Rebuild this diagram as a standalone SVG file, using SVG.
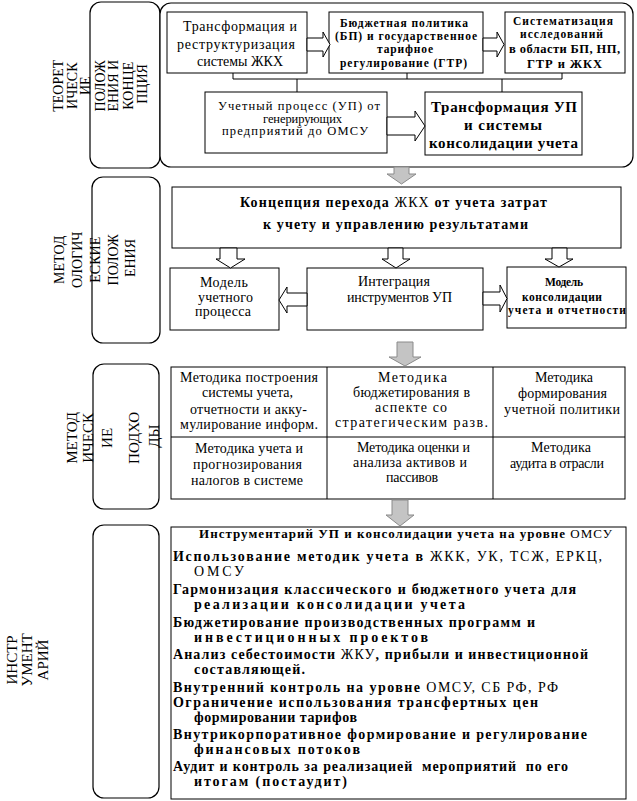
<svg xmlns="http://www.w3.org/2000/svg" width="637" height="801" viewBox="0 0 637 801">
<style>
.bg{fill:#fff}
.box{fill:#fff;stroke:#000;stroke-width:1}
.rr{fill:#fff;stroke:#000;stroke-width:1.2}
.ln{fill:none;stroke:#000;stroke-width:1}
.ha{fill:#fff;stroke:#000;stroke-width:1}
.ga{fill:#c4c4c4;stroke:#8a8a8a;stroke-width:1}
.t{font-family:"Liberation Serif","Times New Roman",serif;fill:#000}
.s14{font-size:14px}
.s125{font-size:12.5px}
.s13{font-size:13px}
.s11{font-size:11.5px}
.s15{font-size:15px}
.b{font-weight:bold}
.n{font-weight:normal}
.v{text-anchor:middle}
</style>
<rect class="bg" x="0" y="0" width="637" height="801"/>

<!-- Section 1 -->
<g id="label-theory">
<rect class="rr" x="90" y="2" width="70" height="166" rx="11"/>
<text class="t s14 v" transform="rotate(-90)">
<tspan x="-84" y="62.5">ТЕОРЕТ</tspan>
<tspan x="-84" y="76.5">ИЧЕСК</tspan>
<tspan x="-84" y="89.5">ИЕ</tspan>
<tspan x="-84" y="104.5">ПОЛОЖ</tspan>
<tspan x="-84" y="117.5">ЕНИЯ И</tspan>
<tspan x="-84" y="132.5">КОНЦЕ</tspan>
<tspan x="-84" y="146.5">ПЦИЯ</tspan>
</text>
</g>
<g id="frame-theory">
<rect class="rr" x="160" y="3" width="473" height="164" rx="11"/>
</g>
<g id="n-transform-zkh">
<rect class="box" x="167" y="12" width="140" height="61"/>
<text class="t s14" x="183" y="31" textLength="114" lengthAdjust="spacing">Трансформация и</text>
<text class="t s14" x="177" y="49" textLength="118" lengthAdjust="spacing">реструктуризация</text>
<text class="t s14" x="197" y="66" textLength="86" lengthAdjust="spacing">системы ЖКХ</text>
</g>
<g id="n-budget">
<rect class="box" x="329" y="12" width="154" height="61"/>
<text class="t s11 b" x="340" y="27" textLength="128" lengthAdjust="spacing">Бюджетная политика</text>
<text class="t s11 b" x="335" y="40" textLength="142" lengthAdjust="spacing">(БП) и государственное</text>
<text class="t s11 b" x="377" y="53" textLength="56" lengthAdjust="spacing">тарифное</text>
<text class="t s11 b" x="340" y="67" textLength="127" lengthAdjust="spacing">регулирование (ГТР)</text>
</g>
<g id="n-system">
<rect class="box" x="505" y="12" width="120" height="61"/>
<text class="t s11 b" x="513" y="25" textLength="100" lengthAdjust="spacing">Систематизация</text>
<text class="t s11 b" x="520" y="38" textLength="83" lengthAdjust="spacing">исследований</text>
<text class="t s125 b" x="509" y="53" textLength="111" lengthAdjust="spacing">в области БП, НП,</text>
<text class="t s125 b" x="527" y="68" textLength="75" lengthAdjust="spacing">ГТР и ЖКХ</text>
</g>
<g id="n-up">
<rect class="box" x="205" y="92" width="182" height="61"/>
<text class="t s125" x="218" y="110" textLength="162" lengthAdjust="spacing">Учетный процесс (УП) от</text>
<text class="t s125" x="263" y="122.5" textLength="79" lengthAdjust="spacing">генерирующих</text>
<text class="t s125" x="222" y="135" textLength="146" lengthAdjust="spacing">предприятий до ОМСУ</text>
</g>
<g id="n-transform-up">
<rect class="box" x="425" y="92" width="157" height="63"/>
<text class="t s15 b" x="431" y="112" textLength="146" lengthAdjust="spacing">Трансформация УП</text>
<text class="t s15 b" x="464" y="130" textLength="78" lengthAdjust="spacing">и системы</text>
<text class="t s15 b" x="429" y="148" textLength="149" lengthAdjust="spacing">консолидации учета</text>
</g>

<!-- Section 2 -->
<g id="label-method">
<rect class="rr" x="92" y="177" width="68" height="166" rx="11"/>
<text class="t s14 v" transform="rotate(-90)">
<tspan x="-258" y="64">МЕТОД</tspan>
<tspan x="-258" y="82">ОЛОГИЧ</tspan>
<tspan x="-258" y="100">ЕСКИЕ</tspan>
<tspan x="-258" y="118">ПОЛОЖ</tspan>
<tspan x="-258" y="135">ЕНИЯ</tspan>
</text>
</g>
<g id="n-concept">
<rect class="box" x="172" y="187" width="449" height="61"/>
<text class="t s14 b" x="240" y="207" textLength="307" lengthAdjust="spacing">Концепция перехода <tspan class="n">ЖКХ</tspan> от учета затрат</text>
<text class="t s14 b" x="263" y="229" textLength="265" lengthAdjust="spacing">к учету и управлению результатами</text>
</g>
<g id="n-model-up">
<rect class="box" x="170" y="268" width="109" height="62"/>
<text class="t s14" x="200" y="287" textLength="48" lengthAdjust="spacing">Модель</text>
<text class="t s14" x="198" y="302" textLength="55" lengthAdjust="spacing">учетного</text>
<text class="t s14" x="195" y="316" textLength="56" lengthAdjust="spacing">процесса</text>
</g>
<g id="n-integration">
<rect class="box" x="307" y="268" width="176" height="62"/>
<text class="t s14" x="358" y="286" textLength="72" lengthAdjust="spacing">Интеграция</text>
<text class="t s14" x="347" y="302" textLength="105" lengthAdjust="spacing">инструментов УП</text>
</g>
<g id="n-model-cons">
<rect class="box" x="507" y="267" width="119" height="61"/>
<text class="t s11 b" x="545" y="286" textLength="38" lengthAdjust="spacing">Модель</text>
<text class="t s11 b" x="522" y="301" textLength="80" lengthAdjust="spacing">консолидации</text>
<text class="t s11 b" x="508" y="314" textLength="118" lengthAdjust="spacing">учета и отчетности</text>
</g>

<!-- Section 3 -->
<g id="label-approach">
<rect class="rr" x="93" y="364" width="66" height="145" rx="11"/>
<text class="t s15 v" transform="rotate(-90)">
<tspan x="-436" y="77">МЕТОД</tspan>
<tspan x="-436" y="93">ИЧЕСК</tspan>
<tspan x="-436" y="112">ИЕ</tspan>
<tspan x="-436" y="139">ПОДХО</tspan>
<tspan x="-436" y="159">ДЫ</tspan>
</text>
</g>
<g id="n-methods-table">
<rect class="box" x="171" y="367" width="454" height="132"/>
<path class="ln" d="M171 437 H625 M327 367 V499 M493 367 V499"/>
</g>
<g id="n-m1">
<text class="t s14" x="180" y="382" textLength="138" lengthAdjust="spacing">Методика построения</text>
<text class="t s14" x="202" y="397" textLength="91" lengthAdjust="spacing">системы учета,</text>
<text class="t s14" x="190" y="414" textLength="117" lengthAdjust="spacing">отчетности и акку-</text>
<text class="t s14" x="180" y="429" textLength="138" lengthAdjust="spacing">мулирование информ.</text>
</g>
<g id="n-m2">
<text class="t s14" x="378" y="382" textLength="69" lengthAdjust="spacing">Методика</text>
<text class="t s14" x="353" y="397" textLength="117" lengthAdjust="spacing">бюджетирования в</text>
<text class="t s14" x="375" y="412" textLength="72" lengthAdjust="spacing">аспекте со</text>
<text class="t s14" x="335" y="427" textLength="153" lengthAdjust="spacing">стратегическим разв.</text>
</g>
<g id="n-m3">
<text class="t s14" x="535" y="382" textLength="58" lengthAdjust="spacing">Методика</text>
<text class="t s14" x="518" y="398" textLength="89" lengthAdjust="spacing">формирования</text>
<text class="t s14" x="504" y="414" textLength="116" lengthAdjust="spacing">учетной политики</text>
</g>
<g id="n-m4">
<text class="t s14" x="195" y="453" textLength="108" lengthAdjust="spacing">Методика учета и</text>
<text class="t s14" x="193" y="469" textLength="109" lengthAdjust="spacing">прогнозирования</text>
<text class="t s14" x="191" y="485" textLength="112" lengthAdjust="spacing">налогов в системе</text>
</g>
<g id="n-m5">
<text class="t s14" x="357" y="452" textLength="113" lengthAdjust="spacing">Методика оценки и</text>
<text class="t s14" x="353" y="467" textLength="114" lengthAdjust="spacing">анализа активов и</text>
<text class="t s14" x="386" y="482" textLength="52" lengthAdjust="spacing">пассивов</text>
</g>
<g id="n-m6">
<text class="t s14" x="531" y="452" textLength="60" lengthAdjust="spacing">Методика</text>
<text class="t s14" x="510" y="468" textLength="94" lengthAdjust="spacing">аудита в отрасли</text>
</g>

<!-- Section 4 -->
<g id="label-tools">
<rect class="rr" x="93" y="525" width="66" height="273" rx="11"/>
<text class="t s15 v" transform="rotate(-90)">
<tspan x="-658" y="17">ИНСТР</tspan>
<tspan x="-658" y="32">УМЕНТ</tspan>
<tspan x="-660" y="48">АРИЙ</tspan>
</text>
</g>
<g id="n-tools">
<rect class="box" x="171" y="527" width="455" height="272"/>
<text class="t s13 b" x="199" y="538" textLength="413" lengthAdjust="spacing">Инструментарий УП и консолидации учета на уровне <tspan class="n">ОМСУ</tspan></text>
<text class="t s14 b" x="173" y="561" textLength="429" lengthAdjust="spacing">Использование методик учета в <tspan class="n">ЖКК, УК, ТСЖ, ЕРКЦ,</tspan></text>
<text class="t s14 n" x="194" y="576" textLength="50" lengthAdjust="spacing">ОМСУ</text>
<text class="t s14 b" x="173" y="594" textLength="403" lengthAdjust="spacing">Гармонизация классического и бюджетного учета для</text>
<text class="t s14 b" x="194" y="609" textLength="271" lengthAdjust="spacing">реализации консолидации учета</text>
<text class="t s14 b" x="173" y="627" textLength="362" lengthAdjust="spacing">Бюджетирование производственных программ и</text>
<text class="t s14 b" x="194" y="642" textLength="234" lengthAdjust="spacing">инвестиционных проектов</text>
<text class="t s14 b" x="173" y="659" textLength="415" lengthAdjust="spacing">Анализ себестоимости <tspan class="n">ЖКУ</tspan>, прибыли и инвестиционной</text>
<text class="t s14 b" x="194" y="674" textLength="111" lengthAdjust="spacing">составляющей.</text>
<text class="t s14 b" x="173" y="692" textLength="385" lengthAdjust="spacing">Внутренний контроль на уровне <tspan class="n">ОМСУ, СБ РФ, РФ</tspan></text>
<text class="t s14 b" x="173" y="707" textLength="365" lengthAdjust="spacing">Ограничение использования трансфертных цен</text>
<text class="t s14 b" x="194" y="722" textLength="163" lengthAdjust="spacing">формировании тарифов</text>
<text class="t s14 b" x="173" y="739" textLength="414" lengthAdjust="spacing">Внутрикорпоративное формирование и регулирование</text>
<text class="t s14 b" x="194" y="754" textLength="166" lengthAdjust="spacing">финансовых потоков</text>
<text class="t s14 b" x="173" y="771" textLength="395" lengthAdjust="spacing" xml:space="preserve">Аудит и контроль за реализацией  мероприятий  по его</text>
<text class="t s14 b" x="194" y="786" textLength="153" lengthAdjust="spacing">итогам (постаудит)</text>
</g>

<!-- Connectors -->
<g id="connectors">
<path class="ln" d="M233 73 V79 H562 V73 M407 73 V79 M297 79 V92 M502 79 V92"/>
<polygon class="ha" points="307,38 323,38 323,32 330,44.5 323,57 323,51 307,51"/>
<polygon class="ha" points="483,38 497,38 497,32 504,44.5 497,57 497,51 483,51"/>
<polygon class="ha" points="387,117 415,117 415,111 425,126 415,141 415,135 387,135"/>
<polygon class="ha" points="220,248 237,248 237,259 245,259 230.5,268 216,259 220,259"/>
<polygon class="ha" points="388,248 403,248 403,259 410,259 396,268 382,259 388,259"/>
<polygon class="ha" points="552,248 567,248 567,259 573,259 559,267 545,259 552,259"/>
<polygon class="ha" points="307,293 287,293 287,287 279,300 287,313 287,306 307,306"/>
<polygon class="ha" points="483,292 500,292 500,285 507,298.5 500,312 500,305 483,305"/>
<polygon class="ga" points="394,167 409,167 409,174 416,174 401.5,184 387,174 394,174"/>
<polygon class="ga" points="397,342 413,342 413,357 421,357 405,366 389,357 397,357"/>
<polygon class="ga" points="392,500 408,500 408,515 414,515 400,526 386,515 392,515"/>
</g>
</svg>
